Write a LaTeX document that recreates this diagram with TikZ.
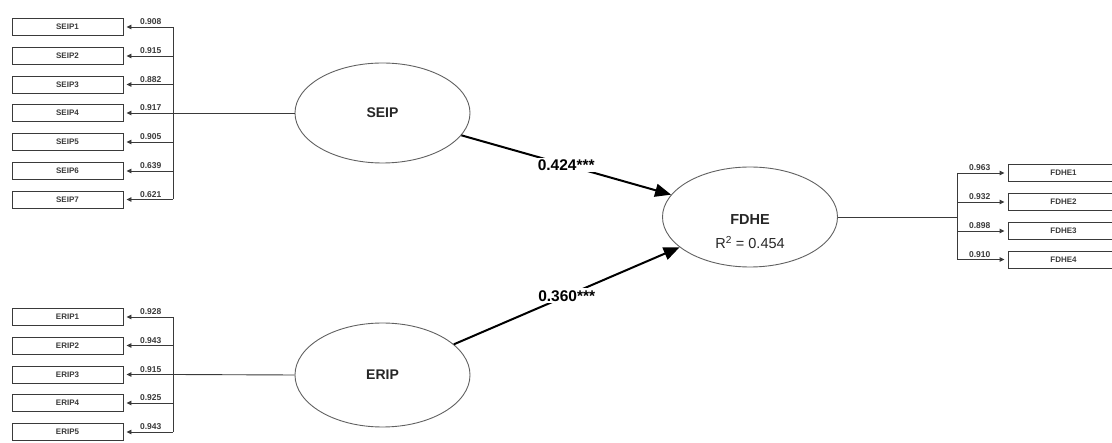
\documentclass[tikz,border=0pt]{standalone}
\usepackage{fontspec}
\setmainfont{Liberation Sans}
\usetikzlibrary{arrows.meta,shapes.geometric}
\definecolor{ln}{HTML}{3A3A3A}
\tikzset{
  x=1pt,y=-1pt,
  ind/.style={draw=ln,line width=0.9pt,rectangle,minimum width=111pt,minimum height=17pt,inner sep=0pt,
     font=\bfseries\fontsize{8}{9}\selectfont,text=ln},
  lat/.style={draw=ln!80,line width=0.9pt,ellipse,minimum width=175pt,minimum height=100pt,inner sep=0pt,
     font=\bfseries\fontsize{14}{15}\selectfont,text=black!85},
  thin/.style={draw=ln,line width=0.9pt},
  load/.style={thin,-{Triangle[length=5pt,width=4.5pt]},shorten >=3pt},
  lbl/.style={font=\bfseries\fontsize{8.5}{9}\selectfont,text=ln,inner sep=1pt},
  pathc/.style={draw=black,line width=2pt,-{Triangle[length=16pt,width=13pt]}},
  plbl/.style={font=\bfseries\fontsize{15.5}{17}\selectfont,fill=white,inner sep=2pt},
}
\begin{document}
\begin{tikzpicture}
\useasboundingbox (0,0) rectangle (1112,443);
\clip (0,0) rectangle (1112,443);
% latent variables
\node[lat] (SEIP) at (382.5,113) {SEIP};
\node[lat,minimum height=104pt] (ERIP) at (382.5,375) {ERIP};
\node[lat] (FDHE) at (750,217) {};
\node[align=center,font=\fontsize{14.5}{24}\selectfont,text=black!85] (fdhetxt) at (750,232)
  {\textbf{FDHE}\\R\textsuperscript{2} = 0.454};
% SEIP indicators
\foreach \i/\y/\v in {1/27/0.908,2/56/0.915,3/84.5/0.882,4/113/0.917,5/142/0.905,6/171/0.639,7/199.5/0.621}{
  \node[ind] (S\i) at (67.5,\y) {SEIP\i};
  \coordinate (sj\i) at (173,\y);
  \draw[load] (sj\i) -- node[lbl,above=0.5pt,pos=0.45] {\v} (S\i.east);
}
\draw[thin] (sj1) -- (sj7);
\draw[thin] (SEIP.west) -- (sj4);
% ERIP indicators
\foreach \i/\y/\v in {1/317/0.928,2/345.5/0.943,3/374.5/0.915,4/403/0.925,5/432/0.943}{
  \node[ind] (E\i) at (67.5,\y) {ERIP\i};
  \coordinate (ej\i) at (173,\y);
  \draw[load] (ej\i) -- node[lbl,above=0.5pt,pos=0.45] {\v} (E\i.east);
}
\draw[thin] (ej1) -- (ej5);
\draw[thin] (ERIP.west) -- (ej3);
% FDHE indicators
\foreach \i/\y/\v in {1/173/0.963,2/202/0.932,3/231/0.898,4/259.5/0.910}{
  \node[ind] (F\i) at (1063.5,\y) {FDHE\i};
  \coordinate (fj\i) at (957,\y);
  \draw[load] (fj\i) -- node[lbl,above=0.5pt,pos=0.45] {\v} (F\i.west);
}
\coordinate (fj) at (957,217);
\draw[thin] (fj1) -- (fj4);
\draw[thin] (FDHE.east) -- (fj);
% structural paths
\draw[pathc] (SEIP) -- node[plbl,pos=0.5] {0.424***} (FDHE);
\draw[pathc] (ERIP) -- node[plbl,pos=0.5] {0.360***} (FDHE);
\end{tikzpicture}
\end{document}
